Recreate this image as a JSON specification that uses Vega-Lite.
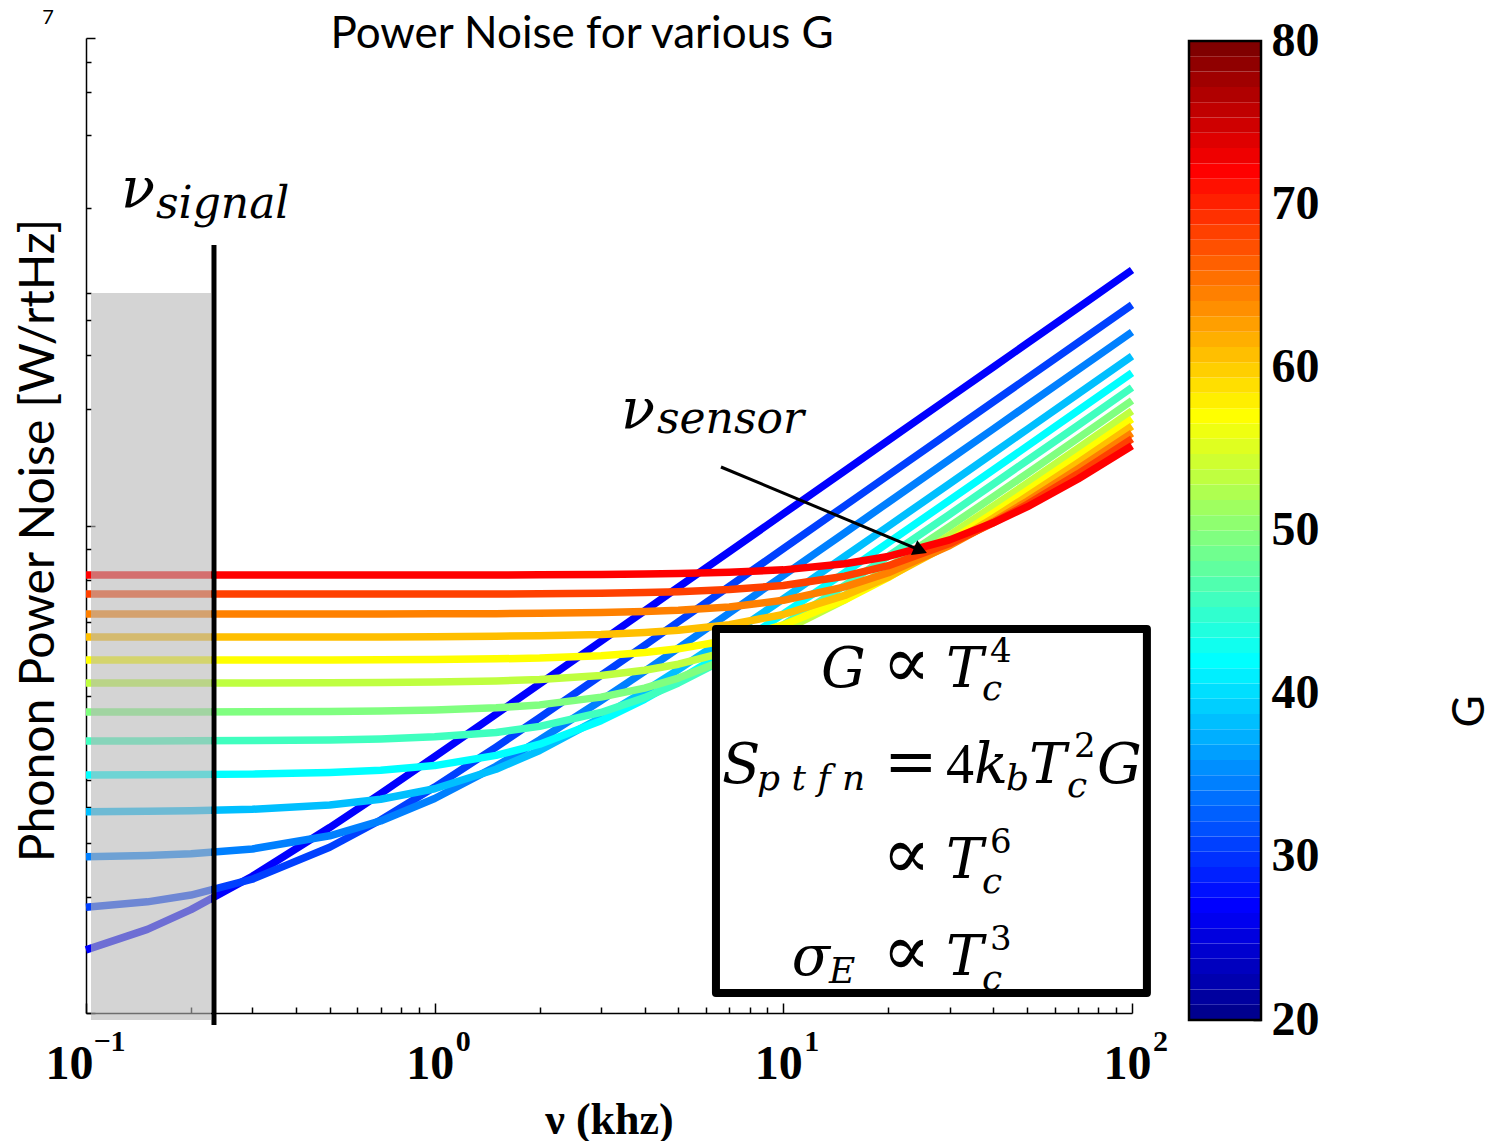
{
"$schema": "https://vega.github.io/schema/vega-lite/v6.json",
"background": "white",
"padding": {"left": 15, "top": 7, "right": 5, "bottom": 5},
"config": {"view": {"stroke": null}, "axis": {"grid": false}},
"bounds": "flush",
"spacing": 57,
"resolve": {"scale": {"color": "independent"}},
"datasets": {
"curves": [
{"G":20,"nu":0.1,"logP":-17.741},{"G":20,"nu":0.15,"logP":-17.657},{"G":20,"nu":0.2,"logP":-17.576},{"G":20,"nu":0.3,"logP":-17.439},{"G":20,"nu":0.5,"logP":-17.239},{"G":20,"nu":0.7,"logP":-17.100},{"G":20,"nu":1,"logP":-16.948},{"G":20,"nu":1.5,"logP":-16.774},{"G":20,"nu":2,"logP":-16.650},{"G":20,"nu":3,"logP":-16.475},{"G":20,"nu":4,"logP":-16.350},{"G":20,"nu":5,"logP":-16.253},{"G":20,"nu":7,"logP":-16.107},{"G":20,"nu":10,"logP":-15.952},{"G":20,"nu":15,"logP":-15.776},{"G":20,"nu":20,"logP":-15.651},{"G":20,"nu":30,"logP":-15.475},{"G":20,"nu":40,"logP":-15.350},{"G":20,"nu":50,"logP":-15.253},{"G":20,"nu":70,"logP":-15.107},{"G":20,"nu":100,"logP":-14.952},
{"G":25,"nu":0.1,"logP":-17.566},{"G":25,"nu":0.15,"logP":-17.544},{"G":25,"nu":0.2,"logP":-17.516},{"G":25,"nu":0.3,"logP":-17.451},{"G":25,"nu":0.5,"logP":-17.320},{"G":25,"nu":0.7,"logP":-17.208},{"G":25,"nu":1,"logP":-17.073},{"G":25,"nu":1.5,"logP":-16.909},{"G":25,"nu":2,"logP":-16.788},{"G":25,"nu":3,"logP":-16.615},{"G":25,"nu":4,"logP":-16.492},{"G":25,"nu":5,"logP":-16.395},{"G":25,"nu":7,"logP":-16.250},{"G":25,"nu":10,"logP":-16.095},{"G":25,"nu":15,"logP":-15.919},{"G":25,"nu":20,"logP":-15.794},{"G":25,"nu":30,"logP":-15.618},{"G":25,"nu":40,"logP":-15.493},{"G":25,"nu":50,"logP":-15.396},{"G":25,"nu":70,"logP":-15.250},{"G":25,"nu":100,"logP":-15.095},
{"G":30,"nu":0.1,"logP":-17.359},{"G":30,"nu":0.15,"logP":-17.354},{"G":30,"nu":0.2,"logP":-17.347},{"G":30,"nu":0.3,"logP":-17.327},{"G":30,"nu":0.5,"logP":-17.273},{"G":30,"nu":0.7,"logP":-17.212},{"G":30,"nu":1,"logP":-17.120},{"G":30,"nu":1.5,"logP":-16.988},{"G":30,"nu":2,"logP":-16.880},{"G":30,"nu":3,"logP":-16.718},{"G":30,"nu":4,"logP":-16.598},{"G":30,"nu":5,"logP":-16.503},{"G":30,"nu":7,"logP":-16.359},{"G":30,"nu":10,"logP":-16.205},{"G":30,"nu":15,"logP":-16.030},{"G":30,"nu":20,"logP":-15.905},{"G":30,"nu":30,"logP":-15.729},{"G":30,"nu":40,"logP":-15.604},{"G":30,"nu":50,"logP":-15.507},{"G":30,"nu":70,"logP":-15.361},{"G":30,"nu":100,"logP":-15.206},
{"G":35,"nu":0.1,"logP":-17.174},{"G":35,"nu":0.15,"logP":-17.172},{"G":35,"nu":0.2,"logP":-17.170},{"G":35,"nu":0.3,"logP":-17.164},{"G":35,"nu":0.5,"logP":-17.147},{"G":35,"nu":0.7,"logP":-17.123},{"G":35,"nu":1,"logP":-17.080},{"G":35,"nu":1.5,"logP":-17.000},{"G":35,"nu":2,"logP":-16.923},{"G":35,"nu":3,"logP":-16.788},{"G":35,"nu":4,"logP":-16.680},{"G":35,"nu":5,"logP":-16.591},{"G":35,"nu":7,"logP":-16.452},{"G":35,"nu":10,"logP":-16.301},{"G":35,"nu":15,"logP":-16.127},{"G":35,"nu":20,"logP":-16.003},{"G":35,"nu":30,"logP":-15.828},{"G":35,"nu":40,"logP":-15.703},{"G":35,"nu":50,"logP":-15.606},{"G":35,"nu":70,"logP":-15.460},{"G":35,"nu":100,"logP":-15.305},
{"G":40,"nu":0.1,"logP":-17.024},{"G":40,"nu":0.15,"logP":-17.023},{"G":40,"nu":0.2,"logP":-17.022},{"G":40,"nu":0.3,"logP":-17.020},{"G":40,"nu":0.5,"logP":-17.013},{"G":40,"nu":0.7,"logP":-17.004},{"G":40,"nu":1,"logP":-16.985},{"G":40,"nu":1.5,"logP":-16.943},{"G":40,"nu":2,"logP":-16.897},{"G":40,"nu":3,"logP":-16.801},{"G":40,"nu":4,"logP":-16.713},{"G":40,"nu":5,"logP":-16.635},{"G":40,"nu":7,"logP":-16.508},{"G":40,"nu":10,"logP":-16.363},{"G":40,"nu":15,"logP":-16.193},{"G":40,"nu":20,"logP":-16.070},{"G":40,"nu":30,"logP":-15.896},{"G":40,"nu":40,"logP":-15.772},{"G":40,"nu":50,"logP":-15.675},{"G":40,"nu":70,"logP":-15.529},{"G":40,"nu":100,"logP":-15.374},
{"G":45,"nu":0.1,"logP":-16.884},{"G":45,"nu":0.15,"logP":-16.884},{"G":45,"nu":0.2,"logP":-16.883},{"G":45,"nu":0.3,"logP":-16.882},{"G":45,"nu":0.5,"logP":-16.880},{"G":45,"nu":0.7,"logP":-16.876},{"G":45,"nu":1,"logP":-16.867},{"G":45,"nu":1.5,"logP":-16.849},{"G":45,"nu":2,"logP":-16.824},{"G":45,"nu":3,"logP":-16.767},{"G":45,"nu":4,"logP":-16.706},{"G":45,"nu":5,"logP":-16.646},{"G":45,"nu":7,"logP":-16.539},{"G":45,"nu":10,"logP":-16.408},{"G":45,"nu":15,"logP":-16.246},{"G":45,"nu":20,"logP":-16.126},{"G":45,"nu":30,"logP":-15.954},{"G":45,"nu":40,"logP":-15.830},{"G":45,"nu":50,"logP":-15.734},{"G":45,"nu":70,"logP":-15.589},{"G":45,"nu":100,"logP":-15.434},
{"G":50,"nu":0.1,"logP":-16.765},{"G":50,"nu":0.15,"logP":-16.765},{"G":50,"nu":0.2,"logP":-16.765},{"G":50,"nu":0.3,"logP":-16.764},{"G":50,"nu":0.5,"logP":-16.763},{"G":50,"nu":0.7,"logP":-16.761},{"G":50,"nu":1,"logP":-16.757},{"G":50,"nu":1.5,"logP":-16.748},{"G":50,"nu":2,"logP":-16.736},{"G":50,"nu":3,"logP":-16.704},{"G":50,"nu":4,"logP":-16.667},{"G":50,"nu":5,"logP":-16.626},{"G":50,"nu":7,"logP":-16.545},{"G":50,"nu":10,"logP":-16.435},{"G":50,"nu":15,"logP":-16.287},{"G":50,"nu":20,"logP":-16.172},{"G":50,"nu":30,"logP":-16.004},{"G":50,"nu":40,"logP":-15.882},{"G":50,"nu":50,"logP":-15.787},{"G":50,"nu":70,"logP":-15.642},{"G":50,"nu":100,"logP":-15.487},
{"G":55,"nu":0.1,"logP":-16.646},{"G":55,"nu":0.15,"logP":-16.646},{"G":55,"nu":0.2,"logP":-16.646},{"G":55,"nu":0.3,"logP":-16.646},{"G":55,"nu":0.5,"logP":-16.645},{"G":55,"nu":0.7,"logP":-16.644},{"G":55,"nu":1,"logP":-16.642},{"G":55,"nu":1.5,"logP":-16.638},{"G":55,"nu":2,"logP":-16.632},{"G":55,"nu":3,"logP":-16.615},{"G":55,"nu":4,"logP":-16.594},{"G":55,"nu":5,"logP":-16.569},{"G":55,"nu":7,"logP":-16.515},{"G":55,"nu":10,"logP":-16.431},{"G":55,"nu":15,"logP":-16.305},{"G":55,"nu":20,"logP":-16.200},{"G":55,"nu":30,"logP":-16.040},{"G":55,"nu":40,"logP":-15.921},{"G":55,"nu":50,"logP":-15.827},{"G":55,"nu":70,"logP":-15.683},{"G":55,"nu":100,"logP":-15.530},
{"G":60,"nu":0.1,"logP":-16.552},{"G":60,"nu":0.15,"logP":-16.552},{"G":60,"nu":0.2,"logP":-16.552},{"G":60,"nu":0.3,"logP":-16.552},{"G":60,"nu":0.5,"logP":-16.552},{"G":60,"nu":0.7,"logP":-16.551},{"G":60,"nu":1,"logP":-16.550},{"G":60,"nu":1.5,"logP":-16.547},{"G":60,"nu":2,"logP":-16.544},{"G":60,"nu":3,"logP":-16.534},{"G":60,"nu":4,"logP":-16.521},{"G":60,"nu":5,"logP":-16.506},{"G":60,"nu":7,"logP":-16.470},{"G":60,"nu":10,"logP":-16.408},{"G":60,"nu":15,"logP":-16.305},{"G":60,"nu":20,"logP":-16.213},{"G":60,"nu":30,"logP":-16.064},{"G":60,"nu":40,"logP":-15.949},{"G":60,"nu":50,"logP":-15.857},{"G":60,"nu":70,"logP":-15.715},{"G":60,"nu":100,"logP":-15.563},
{"G":65,"nu":0.1,"logP":-16.457},{"G":65,"nu":0.15,"logP":-16.457},{"G":65,"nu":0.2,"logP":-16.457},{"G":65,"nu":0.3,"logP":-16.457},{"G":65,"nu":0.5,"logP":-16.457},{"G":65,"nu":0.7,"logP":-16.457},{"G":65,"nu":1,"logP":-16.456},{"G":65,"nu":1.5,"logP":-16.454},{"G":65,"nu":2,"logP":-16.452},{"G":65,"nu":3,"logP":-16.447},{"G":65,"nu":4,"logP":-16.439},{"G":65,"nu":5,"logP":-16.430},{"G":65,"nu":7,"logP":-16.407},{"G":65,"nu":10,"logP":-16.365},{"G":65,"nu":15,"logP":-16.287},{"G":65,"nu":20,"logP":-16.211},{"G":65,"nu":30,"logP":-16.077},{"G":65,"nu":40,"logP":-15.970},{"G":65,"nu":50,"logP":-15.881},{"G":65,"nu":70,"logP":-15.743},{"G":65,"nu":100,"logP":-15.592},
{"G":70,"nu":0.1,"logP":-16.363},{"G":70,"nu":0.15,"logP":-16.363},{"G":70,"nu":0.2,"logP":-16.363},{"G":70,"nu":0.3,"logP":-16.363},{"G":70,"nu":0.5,"logP":-16.363},{"G":70,"nu":0.7,"logP":-16.363},{"G":70,"nu":1,"logP":-16.362},{"G":70,"nu":1.5,"logP":-16.362},{"G":70,"nu":2,"logP":-16.360},{"G":70,"nu":3,"logP":-16.357},{"G":70,"nu":4,"logP":-16.353},{"G":70,"nu":5,"logP":-16.348},{"G":70,"nu":7,"logP":-16.334},{"G":70,"nu":10,"logP":-16.307},{"G":70,"nu":15,"logP":-16.252},{"G":70,"nu":20,"logP":-16.194},{"G":70,"nu":30,"logP":-16.082},{"G":70,"nu":40,"logP":-15.984},{"G":70,"nu":50,"logP":-15.901},{"G":70,"nu":70,"logP":-15.768},{"G":70,"nu":100,"logP":-15.621},
{"G":75,"nu":0.1,"logP":-16.281},{"G":75,"nu":0.15,"logP":-16.281},{"G":75,"nu":0.2,"logP":-16.281},{"G":75,"nu":0.3,"logP":-16.281},{"G":75,"nu":0.5,"logP":-16.281},{"G":75,"nu":0.7,"logP":-16.281},{"G":75,"nu":1,"logP":-16.281},{"G":75,"nu":1.5,"logP":-16.281},{"G":75,"nu":2,"logP":-16.280},{"G":75,"nu":3,"logP":-16.278},{"G":75,"nu":4,"logP":-16.275},{"G":75,"nu":5,"logP":-16.272},{"G":75,"nu":7,"logP":-16.263},{"G":75,"nu":10,"logP":-16.246},{"G":75,"nu":15,"logP":-16.208},{"G":75,"nu":20,"logP":-16.165},{"G":75,"nu":30,"logP":-16.074},{"G":75,"nu":40,"logP":-15.989},{"G":75,"nu":50,"logP":-15.914},{"G":75,"nu":70,"logP":-15.788},{"G":75,"nu":100,"logP":-15.645},
{"G":80,"nu":0.1,"logP":-16.203},{"G":80,"nu":0.15,"logP":-16.203},{"G":80,"nu":0.2,"logP":-16.203},{"G":80,"nu":0.3,"logP":-16.203},{"G":80,"nu":0.5,"logP":-16.203},{"G":80,"nu":0.7,"logP":-16.203},{"G":80,"nu":1,"logP":-16.203},{"G":80,"nu":1.5,"logP":-16.203},{"G":80,"nu":2,"logP":-16.202},{"G":80,"nu":3,"logP":-16.201},{"G":80,"nu":4,"logP":-16.199},{"G":80,"nu":5,"logP":-16.197},{"G":80,"nu":7,"logP":-16.192},{"G":80,"nu":10,"logP":-16.182},{"G":80,"nu":15,"logP":-16.157},{"G":80,"nu":20,"logP":-16.127},{"G":80,"nu":30,"logP":-16.059},{"G":80,"nu":40,"logP":-15.989},{"G":80,"nu":50,"logP":-15.924},{"G":80,"nu":70,"logP":-15.809},{"G":80,"nu":100,"logP":-15.673}
],
"shade": [{"nu": 0.10336, "nu2": 0.22828, "logP": -15.0462, "logP2": -18.0287}],
"signal_line": [{"nu": 0.23284, "logP": -14.8492, "logP2": -18.0492}],
"formula_box": [{"nu": 6.4086, "nu2": 110.35, "logP": -16.4246, "logP2": -17.9179}],
"arrow": [{"nu": 6.624, "logP": -15.76, "nu2": 24.74, "logP2": -16.1018}],
"arrow_head": [{"nu": 24.74, "logP": -16.1018}],
"nu_symbols": [{"text": "ν", "nu": 0.12601, "logP": -14.6933}, {"text": "ν", "nu": 3.4222, "logP": -15.6}],
"nu_subscripts": [{"text": "signal", "nu": 0.15874, "logP": -14.7385}, {"text": "sensor", "nu": 4.34, "logP": -15.6205}],
"math_italic": [
{"text": "G", "nu": 12.819, "logP": -16.6626},
{"text": "T", "nu": 29.26, "logP": -16.6626},
{"text": "S", "nu": 6.667, "logP": -17.0564},
{"text": "k", "nu": 35.21, "logP": -17.0564},
{"text": "T", "nu": 50.62, "logP": -17.0564},
{"text": "G", "nu": 79.31, "logP": -17.0564},
{"text": "T", "nu": 29.26, "logP": -17.4462},
{"text": "σ", "nu": 10.58, "logP": -17.8441},
{"text": "T", "nu": 29.26, "logP": -17.8441}
],
"proportional_signs": [
{"text": "∝", "nu": 19.175, "logP": -16.6626},
{"text": "∝", "nu": 19.175, "logP": -17.4462},
{"text": "∝", "nu": 19.175, "logP": -17.8441}
],
"equals_sign": [{"text": "=", "nu": 19.43, "logP": -17.0564}],
"math_digits": [{"text": "4", "nu": 29.26, "logP": -17.0564}],
"script_italic": [
{"text": "c", "nu": 37.11, "logP": -16.7159},
{"text": "p t f n", "nu": 8.4, "logP": -17.0851},
{"text": "b", "nu": 43.49, "logP": -17.0851},
{"text": "c", "nu": 65.06, "logP": -17.1138},
{"text": "c", "nu": 37.11, "logP": -17.5077},
{"text": "E", "nu": 13.51, "logP": -17.8769},
{"text": "c", "nu": 37.11, "logP": -17.9056}
],
"script_roman": [
{"text": "4", "nu": 39.13, "logP": -16.56},
{"text": "2", "nu": 68.14, "logP": -16.9497},
{"text": "6", "nu": 39.13, "logP": -17.3436},
{"text": "3", "nu": 39.13, "logP": -17.7415}
],
"corner_note": [{"text": "7", "nu": 0.0778, "logP": -13.9159}],
"bands": [
{"lo":20,"hi":20.9375},{"lo":20.9375,"hi":21.875},{"lo":21.875,"hi":22.8125},{"lo":22.8125,"hi":23.75},{"lo":23.75,"hi":24.6875},{"lo":24.6875,"hi":25.625},{"lo":25.625,"hi":26.5625},{"lo":26.5625,"hi":27.5},
{"lo":27.5,"hi":28.4375},{"lo":28.4375,"hi":29.375},{"lo":29.375,"hi":30.3125},{"lo":30.3125,"hi":31.25},{"lo":31.25,"hi":32.1875},{"lo":32.1875,"hi":33.125},{"lo":33.125,"hi":34.0625},{"lo":34.0625,"hi":35},
{"lo":35,"hi":35.9375},{"lo":35.9375,"hi":36.875},{"lo":36.875,"hi":37.8125},{"lo":37.8125,"hi":38.75},{"lo":38.75,"hi":39.6875},{"lo":39.6875,"hi":40.625},{"lo":40.625,"hi":41.5625},{"lo":41.5625,"hi":42.5},
{"lo":42.5,"hi":43.4375},{"lo":43.4375,"hi":44.375},{"lo":44.375,"hi":45.3125},{"lo":45.3125,"hi":46.25},{"lo":46.25,"hi":47.1875},{"lo":47.1875,"hi":48.125},{"lo":48.125,"hi":49.0625},{"lo":49.0625,"hi":50},
{"lo":50,"hi":50.9375},{"lo":50.9375,"hi":51.875},{"lo":51.875,"hi":52.8125},{"lo":52.8125,"hi":53.75},{"lo":53.75,"hi":54.6875},{"lo":54.6875,"hi":55.625},{"lo":55.625,"hi":56.5625},{"lo":56.5625,"hi":57.5},
{"lo":57.5,"hi":58.4375},{"lo":58.4375,"hi":59.375},{"lo":59.375,"hi":60.3125},{"lo":60.3125,"hi":61.25},{"lo":61.25,"hi":62.1875},{"lo":62.1875,"hi":63.125},{"lo":63.125,"hi":64.0625},{"lo":64.0625,"hi":65},
{"lo":65,"hi":65.9375},{"lo":65.9375,"hi":66.875},{"lo":66.875,"hi":67.8125},{"lo":67.8125,"hi":68.75},{"lo":68.75,"hi":69.6875},{"lo":69.6875,"hi":70.625},{"lo":70.625,"hi":71.5625},{"lo":71.5625,"hi":72.5},
{"lo":72.5,"hi":73.4375},{"lo":73.4375,"hi":74.375},{"lo":74.375,"hi":75.3125},{"lo":75.3125,"hi":76.25},{"lo":76.25,"hi":77.1875},{"lo":77.1875,"hi":78.125},{"lo":78.125,"hi":79.0625},{"lo":79.0625,"hi":80}
],
"bar_frame": [{"lo": 20, "hi": 80}]
},
"hconcat": [
{
"width": 1046,
"height": 975,
"title": {"text": "Power Noise for various G", "font": "Lato", "fontSize": 44, "fontWeight": "normal", "color": "black", "frame": "group", "anchor": "middle", "dx": -27, "offset": -93, "baseline": "bottom"},
"resolve": {"axis": {"x": "independent"}},
"layer": [
{
"data": {"name": "curves"},
"mark": {"type": "line", "strokeWidth": 7.5, "strokeCap": "butt", "strokeJoin": "round"},
"encoding": {
"x": {"field": "nu", "type": "quantitative", "scale": {"type": "log", "domain": [0.1, 100], "nice": false},
"axis": {"orient": "bottom", "title": "ν (khz)", "titleFont": "Liberation Serif", "titleFontSize": 44, "titleFontWeight": "bold", "titleColor": "black", "titlePadding": 6,
"values": [0.1,0.2,0.3,0.4,0.5,0.6,0.7,0.8,0.9,1,2,3,4,5,6,7,8,9,10,20,30,40,50,60,70,80,90,100],
"labelExpr": "datum.value === 0.1 || datum.value === 1 || datum.value === 10 || datum.value === 100 ? '10' : ''",
"labelOffset": {"condition": {"test": "datum.value === 0.1", "value": -17}, "value": -5},
"labelFont": "Liberation Serif", "labelFontSize": 48, "labelFontWeight": "bold", "labelColor": "black", "labelPadding": 37, "labelFlush": false, "labelOverlap": false, "labelBound": false,
"tickSize": {"condition": {"test": "datum.value === 0.1 || datum.value === 1 || datum.value === 10 || datum.value === 100", "value": -10}, "value": -6},
"tickColor": "black", "tickWidth": 1.5, "domainColor": "black", "domainWidth": 1.5}},
"y": {"field": "logP", "type": "quantitative", "scale": {"domain": [-18, -14], "nice": false, "zero": false},
"axis": {"title": "Phonon Power Noise [W/rtHz]", "titleFont": "Lato", "titleFontSize": 48, "titleFontWeight": "normal", "titleColor": "black", "titlePadding": 22, "titleY": 502,
"values": [-18,-17.69897,-17.52288,-17.39794,-17.30103,-17.22185,-17.1549,-17.09691,-17.04576,-17,-16.69897,-16.52288,-16.39794,-16.30103,-16.22185,-16.1549,-16.09691,-16.04576,-16,-15.69897,-15.52288,-15.39794,-15.30103,-15.22185,-15.1549,-15.09691,-15.04576,-15,-14.69897,-14.52288,-14.39794,-14.30103,-14.22185,-14.1549,-14.09691,-14.04576,-14],
"labels": false,
"tickSize": {"condition": {"test": "datum.value === floor(datum.value)", "value": -9}, "value": -5},
"tickColor": "black", "tickWidth": 1.5, "domainColor": "black", "domainWidth": 1.5}},
"color": {"field": "G", "type": "quantitative", "scale": {"domain": [20, 40, 60, 80], "range": ["#0000ff", "#00ffff", "#ffff00", "#ff0000"], "interpolate": "rgb"}, "legend": null},
"detail": {"field": "G"}
}
},
{
"data": {"name": "shade"},
"mark": {"type": "rect", "fill": "#b8b8b8", "fillOpacity": 0.6, "strokeWidth": 0},
"encoding": {
"x": {"field": "nu", "type": "quantitative",
"axis": {"orient": "bottom", "values": [0.1, 1, 10, 100], "title": null, "ticks": false, "domain": false,
"labelExpr": "datum.value === 0.1 ? '−1' : datum.value === 1 ? '0' : datum.value === 10 ? '1' : '2'",
"labelOffset": {"condition": {"test": "datum.value === 0.1", "value": 23}, "value": 28},
"labelFont": "Liberation Serif", "labelFontSize": 30, "labelFontWeight": "bold", "labelColor": "black", "labelPadding": 13, "labelFlush": false, "labelOverlap": false, "labelBound": false}},
"x2": {"field": "nu2"}, "y": {"field": "logP", "type": "quantitative"}, "y2": {"field": "logP2"}}
},
{
"data": {"name": "signal_line"},
"mark": {"type": "rule", "color": "black", "strokeWidth": 5},
"encoding": {"x": {"field": "nu", "type": "quantitative", "axis": null}, "y": {"field": "logP", "type": "quantitative"}, "y2": {"field": "logP2"}}
},
{
"data": {"name": "formula_box"},
"mark": {"type": "rect", "fill": "white", "stroke": "black", "strokeWidth": 8, "strokeJoin": "round"},
"encoding": {"x": {"field": "nu", "type": "quantitative", "axis": null}, "x2": {"field": "nu2"}, "y": {"field": "logP", "type": "quantitative"}, "y2": {"field": "logP2"}}
},
{
"data": {"name": "arrow"},
"mark": {"type": "rule", "color": "black", "strokeWidth": 3},
"encoding": {"x": {"field": "nu", "type": "quantitative", "axis": null}, "x2": {"field": "nu2"}, "y": {"field": "logP", "type": "quantitative"}, "y2": {"field": "logP2"}}
},
{
"data": {"name": "arrow_head"},
"mark": {"type": "point", "shape": "triangle-right", "size": 256, "filled": true, "color": "black", "opacity": 1, "angle": 23},
"encoding": {"x": {"field": "nu", "type": "quantitative", "axis": null}, "y": {"field": "logP", "type": "quantitative"}}
},
{
"data": {"name": "nu_symbols"},
"mark": {"type": "text", "font": "DejaVu Serif", "fontSize": 56, "fontStyle": "italic", "align": "left", "baseline": "alphabetic", "color": "black"},
"encoding": {"x": {"field": "nu", "type": "quantitative", "axis": null}, "y": {"field": "logP", "type": "quantitative"}, "text": {"field": "text"}}
},
{
"data": {"name": "nu_subscripts"},
"mark": {"type": "text", "font": "DejaVu Serif", "fontSize": 44, "fontStyle": "italic", "align": "left", "baseline": "alphabetic", "color": "black"},
"encoding": {"x": {"field": "nu", "type": "quantitative", "axis": null}, "y": {"field": "logP", "type": "quantitative"}, "text": {"field": "text"}}
},
{
"data": {"name": "math_italic"},
"mark": {"type": "text", "font": "DejaVu Serif", "fontSize": 56, "fontStyle": "italic", "align": "left", "baseline": "alphabetic", "color": "black"},
"encoding": {"x": {"field": "nu", "type": "quantitative", "axis": null}, "y": {"field": "logP", "type": "quantitative"}, "text": {"field": "text"}}
},
{
"data": {"name": "proportional_signs"},
"mark": {"type": "text", "font": "DejaVu Serif", "fontSize": 72, "align": "left", "baseline": "alphabetic", "color": "black"},
"encoding": {"x": {"field": "nu", "type": "quantitative", "axis": null}, "y": {"field": "logP", "type": "quantitative"}, "text": {"field": "text"}}
},
{
"data": {"name": "equals_sign"},
"mark": {"type": "text", "font": "DejaVu Serif", "fontSize": 64, "align": "left", "baseline": "alphabetic", "color": "black"},
"encoding": {"x": {"field": "nu", "type": "quantitative", "axis": null}, "y": {"field": "logP", "type": "quantitative"}, "text": {"field": "text"}}
},
{
"data": {"name": "math_digits"},
"mark": {"type": "text", "font": "Liberation Serif", "fontSize": 56, "align": "left", "baseline": "alphabetic", "color": "black"},
"encoding": {"x": {"field": "nu", "type": "quantitative", "axis": null}, "y": {"field": "logP", "type": "quantitative"}, "text": {"field": "text"}}
},
{
"data": {"name": "script_italic"},
"mark": {"type": "text", "font": "DejaVu Serif", "fontSize": 36, "fontStyle": "italic", "align": "left", "baseline": "alphabetic", "color": "black"},
"encoding": {"x": {"field": "nu", "type": "quantitative", "axis": null}, "y": {"field": "logP", "type": "quantitative"}, "text": {"field": "text"}}
},
{
"data": {"name": "script_roman"},
"mark": {"type": "text", "font": "DejaVu Serif", "fontSize": 34, "align": "left", "baseline": "alphabetic", "color": "black"},
"encoding": {"x": {"field": "nu", "type": "quantitative", "axis": null}, "y": {"field": "logP", "type": "quantitative"}, "text": {"field": "text"}}
},
{
"data": {"name": "corner_note"},
"mark": {"type": "text", "font": "Lato", "fontSize": 20, "align": "center", "baseline": "middle", "color": "black"},
"encoding": {"x": {"field": "nu", "type": "quantitative", "axis": null}, "y": {"field": "logP", "type": "quantitative"}, "text": {"field": "text"}}
}
]
},
{
"width": 72,
"height": 982,
"layer": [
{
"data": {"name": "bands"},
"mark": {"type": "rect", "strokeWidth": 0},
"encoding": {
"x": {"datum": 0, "type": "quantitative", "scale": {"domain": [0, 1], "nice": false, "zero": false}, "axis": null},
"x2": {"datum": 1},
"y": {"field": "lo", "type": "quantitative", "scale": {"domain": [20, 80.184], "nice": false, "zero": false},
"axis": {"orient": "left", "values": [30, 40, 50, 60, 70], "labels": false, "domain": false, "tickSize": -8, "tickColor": "black", "tickWidth": 1.5, "title": null}},
"y2": {"field": "hi"},
"color": {"field": "lo", "type": "quantitative", "scale": {"domain": [20, 26.5625, 41.5625, 56.5625, 71.5625, 79.0625], "range": ["#00008f", "#0000ff", "#00ffff", "#ffff00", "#ff0000", "#800000"], "interpolate": "rgb"}, "legend": null}
}
},
{
"data": {"name": "bar_frame"},
"mark": {"type": "rect", "fillOpacity": 0, "stroke": "black", "strokeWidth": 2.5},
"encoding": {
"x": {"datum": 0, "type": "quantitative"},
"x2": {"datum": 1},
"y": {"field": "lo", "type": "quantitative",
"axis": {"orient": "right", "values": [20, 30, 40, 50, 60, 70, 80], "domain": false, "tickSize": -8, "tickColor": "black", "tickWidth": 1.5,
"labelFont": "Liberation Serif", "labelFontSize": 48, "labelFontWeight": "bold", "labelColor": "black", "labelPadding": 18, "labelFlush": false, "labelOverlap": false, "labelBound": false, "labelBaseline": "middle",
"title": "G", "titleFont": "Lato", "titleFontSize": 44, "titleFontWeight": "normal", "titleColor": "black", "titleAngle": -90, "titleBaseline": "top", "titleAlign": "center", "titleX": 187, "titleY": 673}},
"y2": {"field": "hi"}
}
}
],
"resolve": {"axis": {"y": "independent"}}
}
]
}
